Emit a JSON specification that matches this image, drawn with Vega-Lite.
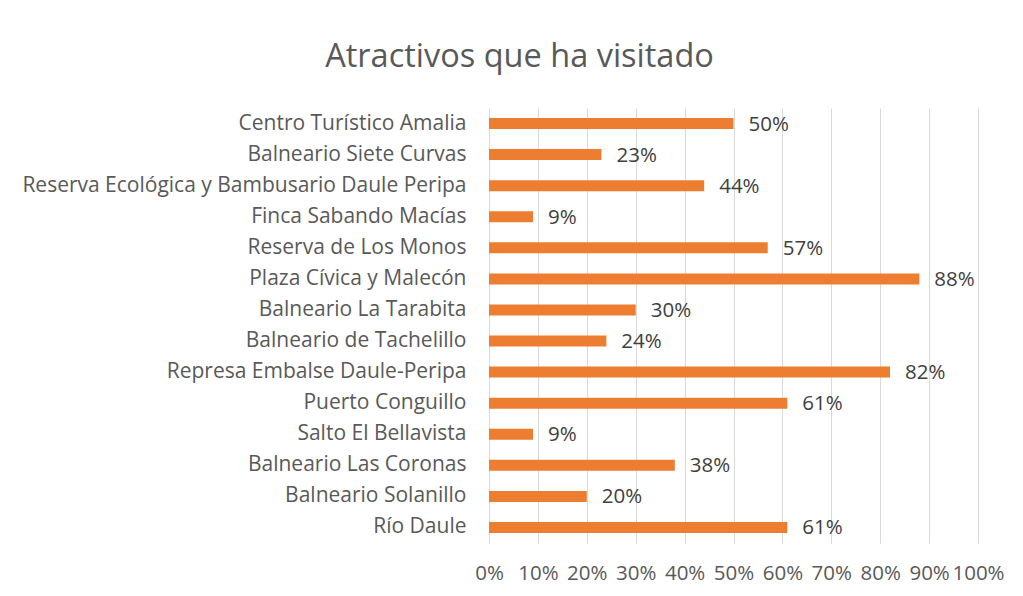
{
  "$schema": "https://vega.github.io/schema/vega-lite/v6.json",
  "width": 489,
  "height": 435,
  "autosize": "none",
  "padding": {"left": 489, "top": 108, "right": 45, "bottom": 53},
  "background": "white",
  "title": {
    "text": "Atractivos que ha visitado",
    "anchor": "middle",
    "frame": "group",
    "dx": -214,
    "offset": 35,
    "font": "Open Sans",
    "fontSize": 32.5,
    "fontWeight": "normal",
    "color": "#595959"
  },
  "data": {
    "values": [
      {"atractivo": "Centro Turístico Amalia", "pct": 0.50},
      {"atractivo": "Balneario Siete Curvas", "pct": 0.23},
      {"atractivo": "Reserva Ecológica y Bambusario Daule Peripa", "pct": 0.44},
      {"atractivo": "Finca Sabando Macías", "pct": 0.09},
      {"atractivo": "Reserva de Los Monos", "pct": 0.57},
      {"atractivo": "Plaza Cívica y Malecón", "pct": 0.88},
      {"atractivo": "Balneario La Tarabita", "pct": 0.30},
      {"atractivo": "Balneario de Tachelillo", "pct": 0.24},
      {"atractivo": "Represa Embalse Daule-Peripa", "pct": 0.82},
      {"atractivo": "Puerto Conguillo", "pct": 0.61},
      {"atractivo": "Salto El Bellavista", "pct": 0.09},
      {"atractivo": "Balneario Las Coronas", "pct": 0.38},
      {"atractivo": "Balneario Solanillo", "pct": 0.20},
      {"atractivo": "Río Daule", "pct": 0.61}
    ]
  },
  "encoding": {
    "y": {
      "field": "atractivo",
      "type": "nominal",
      "sort": null,
      "title": null,
      "axis": {
        "domain": false,
        "ticks": false,
        "labelPadding": 23,
        "labelFont": "Open Sans",
        "labelFontSize": 21,
        "labelColor": "#595959",
        "labelLimit": 700
      }
    },
    "x": {
      "field": "pct",
      "type": "quantitative",
      "title": null,
      "scale": {"domain": [0, 1], "nice": false},
      "axis": {
        "values": [0, 0.1, 0.2, 0.3, 0.4, 0.5, 0.6, 0.7, 0.8, 0.9, 1],
        "format": ".0%",
        "domain": false,
        "ticks": false,
        "grid": true,
        "gridColor": "#d9d9d9",
        "gridWidth": 1,
        "labelPadding": 20,
        "labelFont": "Open Sans",
        "labelFontSize": 20.5,
        "labelColor": "#595959",
        "labelFlush": false,
        "labelOverlap": false
      }
    }
  },
  "layer": [
    {"mark": {"type": "bar", "color": "#ED7D31", "size": 11}},
    {
      "mark": {
        "type": "text",
        "align": "left",
        "baseline": "middle",
        "dx": 15,
        "dy": 1,
        "font": "Open Sans",
        "fontSize": 20.5,
        "color": "#404040"
      },
      "encoding": {"text": {"field": "pct", "type": "quantitative", "format": ".0%"}}
    }
  ],
  "config": {"view": {"stroke": null}}
}
